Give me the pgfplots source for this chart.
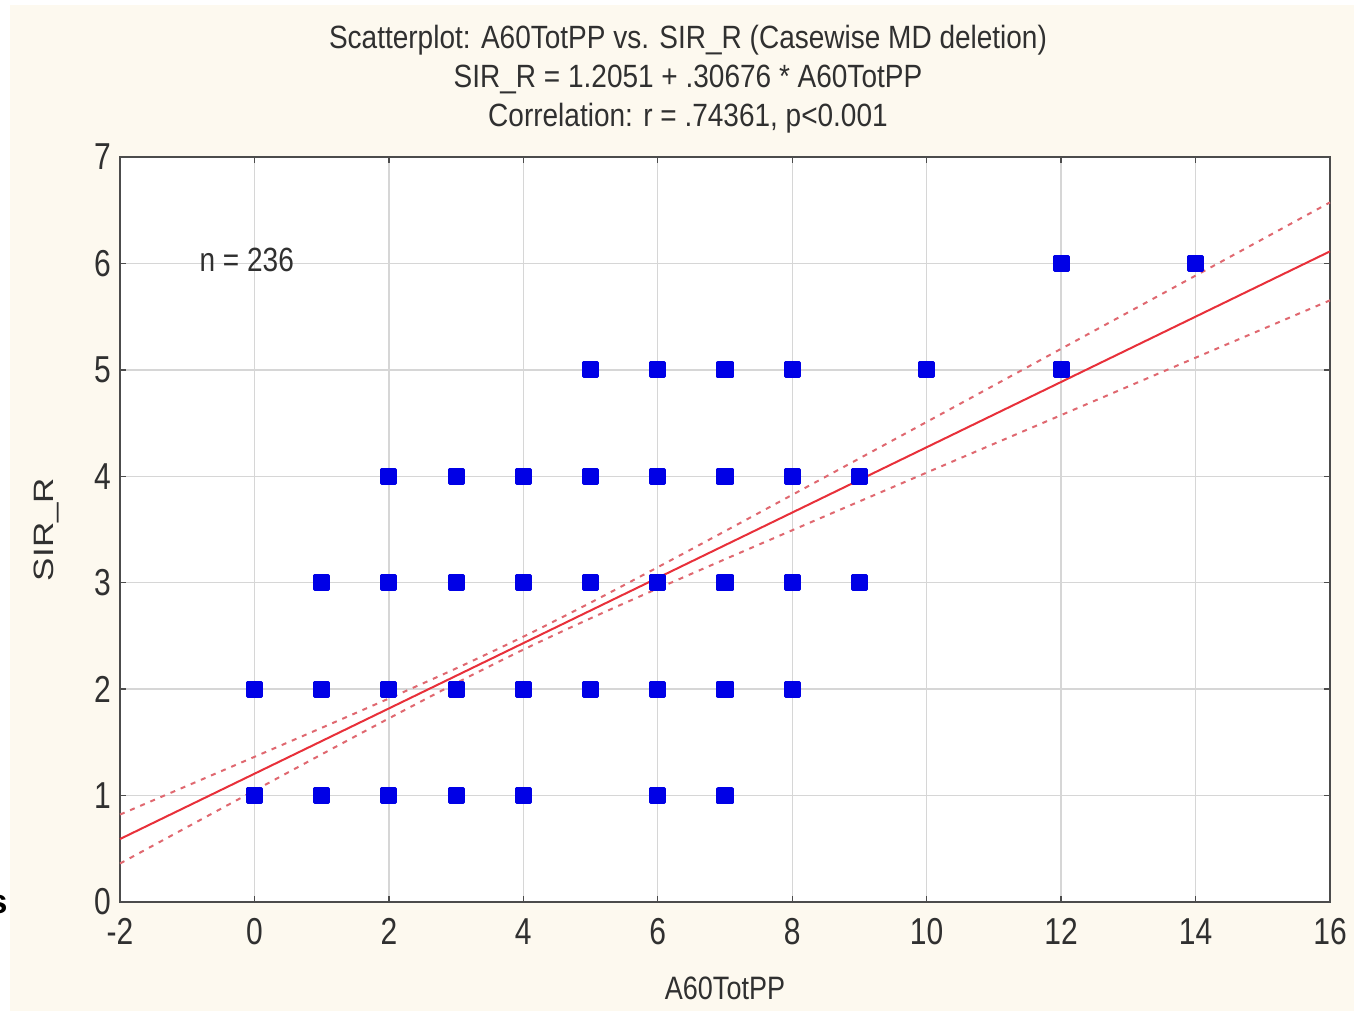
\documentclass[border=0pt]{standalone}
\usepackage{fontspec}
\setmainfont{Liberation Sans}
\usepackage{pgfplots}
\pgfplotsset{compat=1.18}

\definecolor{cream}{HTML}{FDF9EF}
\definecolor{ptblue}{HTML}{0000E6}
\definecolor{fitred}{HTML}{E8303A}
\definecolor{bandred}{HTML}{E06870}
\definecolor{gridgray}{HTML}{D6D6D6}
\definecolor{txt}{HTML}{303030}

\begin{document}
\begin{tikzpicture}[x=1pt,y=1pt]
\path[use as bounding box] (-60,-54.5) rectangle (617,451);
\fill[white] (-60,-54.5) rectangle (617,451);
\fill[cream] (-55,-54.5) rectangle (617,448.5);
\node[font=\bfseries\fontsize{17}{19}\selectfont, text=black] at (-61,-1.5) {s};

\begin{axis}[
    scale only axis,
    width=605pt, height=372.5pt,
    xmin=-2, xmax=16, ymin=0, ymax=7,
    xtick={-2,0,2,4,6,8,10,12,14,16},
    ytick={0,1,2,3,4,5,6,7},
    axis background/.style={fill=white},
    grid=major,
    major grid style={gridgray, line width=0.7pt},
    axis line style={draw=black!70, line width=1.1pt},
    tick style={black!70, line width=0.7pt},
    major tick length=3pt,
    tick align=inside,
    /pgf/number format/assume math mode=true,
    ticklabel style={text=txt, font=\fontsize{15}{18}\selectfont, yscale=1.25},
    xticklabel style={yshift=-3pt},
    yticklabel style={xshift=-1pt},
    xlabel={A60TotPP},
    xlabel style={at={(rel axis cs:0.5,0)}, anchor=center, yshift=-43pt,
                  text=txt, font=\fontsize{13.5}{16}\selectfont, yscale=1.2},
    ylabel={\scalebox{1.25}[1]{SIR\_R}},
    ylabel style={at={(rel axis cs:0,0.5)}, anchor=center, yshift=36.5pt,
                  text=txt, font=\fontsize{14}{17}\selectfont},
    clip=false,
]
% fitted line
\addplot[fitred, line width=1pt] coordinates {(-2,0.5916) (16,6.1133)};
% 95% confidence band
\addplot[bandred, line width=1pt, dash pattern=on 2.5pt off 3pt, smooth] coordinates {
    (-2,0.8216) (-1,1.0922) (0,1.3637) (1,1.6365) (2,1.9121) (3,2.1947)
    (4,2.4929) (5,2.8126) (6,3.1457) (7,3.4843) (8,3.8255) (10,4.5107)
    (12,5.1977) (14,5.8853) (16,6.5735)
};
\addplot[bandred, line width=1pt, dash pattern=on 2.5pt off 3pt, smooth] coordinates {
    (-2,0.3616) (-1,0.7044) (0,1.0465) (1,1.3873) (2,1.7251) (3,2.0561)
    (4,2.3713) (5,2.6652) (6,2.9457) (7,3.2205) (8,3.4929) (10,4.0347)
    (12,4.5747) (14,5.1141) (16,5.6531)
};
% observations
\addplot[only marks, mark=square*, mark size=3.5pt,
         mark options={fill=ptblue, draw=ptblue, line width=1.6pt, line join=round}] coordinates {
    (12,6) (14,6)
    (5,5) (6,5) (7,5) (8,5) (10,5) (12,5)
    (2,4) (3,4) (4,4) (5,4) (6,4) (7,4) (8,4) (9,4)
    (1,3) (2,3) (3,3) (4,3) (5,3) (6,3) (7,3) (8,3) (9,3)
    (0,2) (1,2) (2,2) (3,2) (4,2) (5,2) (6,2) (7,2) (8,2)
    (0,1) (1,1) (2,1) (3,1) (4,1) (6,1) (7,1)
};
\node[anchor=west, text=txt, font=\fontsize{14}{17}\selectfont, yscale=1.2]
    at (axis cs:-0.92,6.03) {n = 236};
\end{axis}

\begin{scope}[every node/.style={text=txt, font=\fontsize{14}{17}\selectfont, yscale=1.15}]
\node at (284,431) {Scatterplot: A60TotPP vs. SIR\_R (Casewise MD deletion)};
\node at (284,411.5) {SIR\_R = 1.2051 + .30676 * A60TotPP};
\node at (284,392) {Correlation: r = .74361, p<0.001};
\end{scope}
\end{tikzpicture}
\end{document}
